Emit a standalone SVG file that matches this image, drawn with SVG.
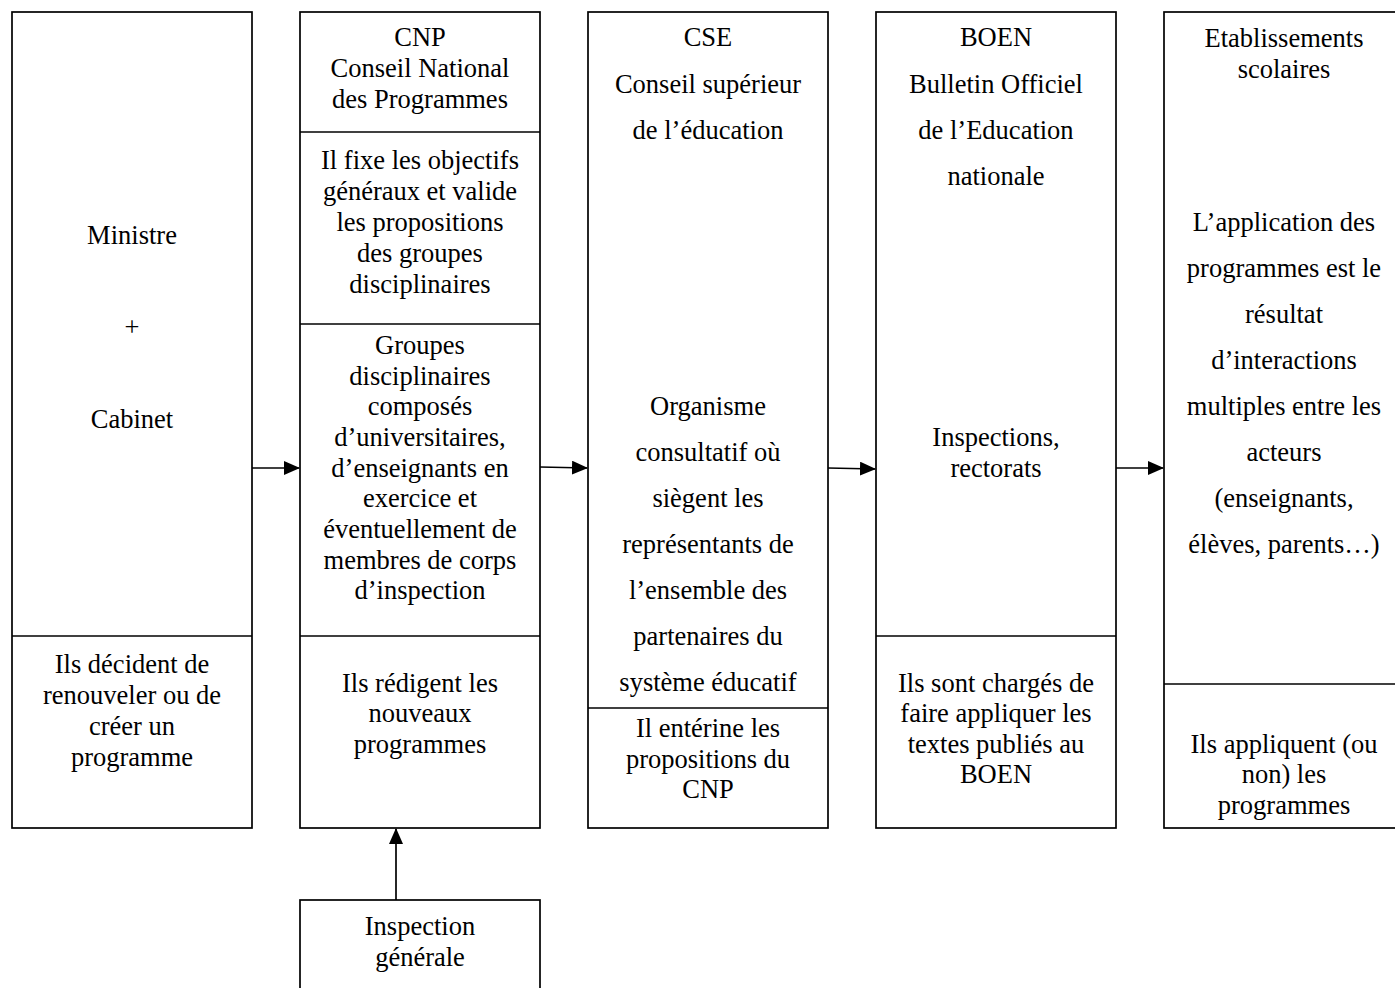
<svg xmlns="http://www.w3.org/2000/svg" width="1395" height="988" viewBox="0 0 1395 988">
<style>
.b{fill:#fff;stroke:#000;stroke-width:1.7}
.d{stroke:#000;stroke-width:1.7}
text{font-family:"Liberation Serif","Times New Roman",serif;font-size:26.5px;fill:#000;text-anchor:middle}
.c{stroke:#000;stroke-width:1.7;fill:none}
</style>
<defs>
<marker id="ah2" markerWidth="16" markerHeight="14" refX="15" refY="7" orient="auto" markerUnits="userSpaceOnUse" viewBox="0 0 16 14">
<path d="M0,0 L16,7 L0,14 Z" fill="#000"/>
</marker>
</defs>
<g id="ministre">
<rect class="b" x="12" y="12" width="240" height="816"/>
<line class="d" x1="12" y1="636" x2="252" y2="636"/>
<text x="132" y="244">Ministre</text>
<text x="132" y="336">+</text>
<text x="132" y="428">Cabinet</text>
<text x="132" y="673">Ils décident de</text>
<text x="132" y="704">renouveler ou de</text>
<text x="132" y="735">créer un</text>
<text x="132" y="766">programme</text>
</g>
<g id="cnp">
<rect class="b" x="300" y="12" width="240" height="816"/>
<line class="d" x1="300" y1="132" x2="540" y2="132"/>
<line class="d" x1="300" y1="324" x2="540" y2="324"/>
<line class="d" x1="300" y1="636" x2="540" y2="636"/>
<text x="420" y="46">CNP</text>
<text x="420" y="77">Conseil National</text>
<text x="420" y="108">des Programmes</text>
<text x="420" y="169">Il fixe les objectifs</text>
<text x="420" y="200">généraux et valide</text>
<text x="420" y="231">les propositions</text>
<text x="420" y="262">des groupes</text>
<text x="420" y="293">disciplinaires</text>
<text x="420" y="354">Groupes</text>
<text x="420" y="385">disciplinaires</text>
<text x="420" y="415">composés</text>
<text x="420" y="446">d’universitaires,</text>
<text x="420" y="477">d’enseignants en</text>
<text x="420" y="507">exercice et</text>
<text x="420" y="538">éventuellement de</text>
<text x="420" y="569">membres de corps</text>
<text x="420" y="599">d’inspection</text>
<text x="420" y="692">Ils rédigent les</text>
<text x="420" y="722">nouveaux</text>
<text x="420" y="753">programmes</text>
</g>
<g id="cse">
<rect class="b" x="588" y="12" width="240" height="816"/>
<line class="d" x1="588" y1="708" x2="828" y2="708"/>
<text x="708" y="46">CSE</text>
<text x="708" y="93">Conseil supérieur</text>
<text x="708" y="139">de l’éducation</text>
<text x="708" y="415">Organisme</text>
<text x="708" y="461">consultatif où</text>
<text x="708" y="507">siègent les</text>
<text x="708" y="553">représentants de</text>
<text x="708" y="599">l’ensemble des</text>
<text x="708" y="645">partenaires du</text>
<text x="708" y="691">système éducatif</text>
<text x="708" y="737">Il entérine les</text>
<text x="708" y="768">propositions du</text>
<text x="708" y="798">CNP</text>
</g>
<g id="boen">
<rect class="b" x="876" y="12" width="240" height="816"/>
<line class="d" x1="876" y1="636" x2="1116" y2="636"/>
<text x="996" y="46">BOEN</text>
<text x="996" y="93">Bulletin Officiel</text>
<text x="996" y="139">de l’Education</text>
<text x="996" y="185">nationale</text>
<text x="996" y="446">Inspections,</text>
<text x="996" y="477">rectorats</text>
<text x="996" y="692">Ils sont chargés de</text>
<text x="996" y="722">faire appliquer les</text>
<text x="996" y="753">textes publiés au</text>
<text x="996" y="783">BOEN</text>
</g>
<g id="etablissements">
<rect class="b" x="1164" y="12" width="240" height="816"/>
<line class="d" x1="1164" y1="684" x2="1404" y2="684"/>
<text x="1284" y="47">Etablissements</text>
<text x="1284" y="78">scolaires</text>
<text x="1284" y="231">L’application des</text>
<text x="1284" y="277">programmes est le</text>
<text x="1284" y="323">résultat</text>
<text x="1284" y="369">d’interactions</text>
<text x="1284" y="415">multiples entre les</text>
<text x="1284" y="461">acteurs</text>
<text x="1284" y="507">(enseignants,</text>
<text x="1284" y="553">élèves, parents…)</text>
<text x="1284" y="753">Ils appliquent (ou</text>
<text x="1284" y="783">non) les</text>
<text x="1284" y="814">programmes</text>
</g>
<g id="inspection">
<rect class="b" x="300" y="900" width="240" height="100"/>
<text x="420" y="935">Inspection</text>
<text x="420" y="966">générale</text>
</g>
<g id="connectors">
<line class="c" x1="252" y1="468" x2="299" y2="468" marker-end="url(#ah2)"/>
<line class="c" x1="540" y1="467" x2="587" y2="468" marker-end="url(#ah2)"/>
<line class="c" x1="828" y1="468" x2="875" y2="469" marker-end="url(#ah2)"/>
<line class="c" x1="1116" y1="468" x2="1163" y2="468" marker-end="url(#ah2)"/>
<line class="c" x1="396" y1="900" x2="396" y2="829" marker-end="url(#ah2)"/>
</g>
</svg>
